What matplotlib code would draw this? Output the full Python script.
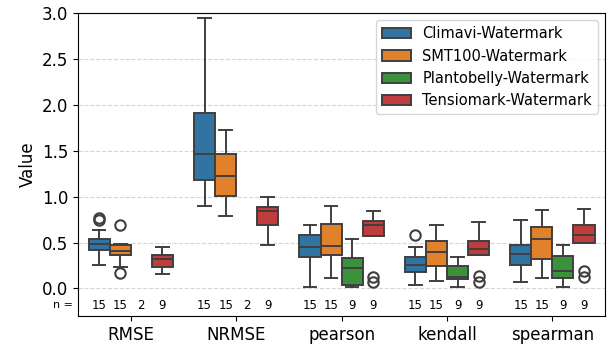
#!/usr/bin/env python3
# Boxplots of sensor-vs-Watermark error metrics, drawn from box statistics.

import numpy as np
import matplotlib
matplotlib.use("Agg")
import matplotlib.pyplot as plt
from matplotlib.patches import Patch

# --- DATA ---
metrics = ["RMSE", "NRMSE", "pearson", "kendall", "spearman"]
sensors = ["Climavi-Watermark", "SMT100-Watermark",
           "Plantobelly-Watermark", "Tensiomark-Watermark"]
colors = ["#3274a1", "#e1812c", "#3a923a", "#c03d3e"]

# sample counts per metric, one list per sensor
counts_climavi = [15, 15, 15, 15, 15]
counts_smt100 = [15, 15, 15, 15, 15]
counts_plantobelly = [2, 2, 9, 9, 9]
counts_tensiomark = [9, 9, 9, 9, 9]

# box stats per metric: whislo, q1, median, q3, whishi (None = nothing shown)
climavi_stats = [
    (0.26, 0.42, 0.48, 0.535, 0.64),
    (0.90, 1.18, 1.46, 1.91, 2.95),
    (0.015, 0.34, 0.455, 0.58, 0.69),
    (0.04, 0.185, 0.255, 0.34, 0.45),
    (0.07, 0.26, 0.38, 0.47, 0.745),
]
smt100_stats = [
    (0.23, 0.36, 0.41, 0.47, 0.48),
    (0.79, 1.01, 1.22, 1.46, 1.73),
    (0.11, 0.36, 0.46, 0.70, 0.90),
    (0.08, 0.24, 0.40, 0.52, 0.69),
    (0.11, 0.32, 0.535, 0.67, 0.85),
]
plantobelly_stats = [
    None,
    None,
    (0.015, 0.04, 0.225, 0.335, 0.54),
    (0.015, 0.10, 0.125, 0.24, 0.34),
    (0.015, 0.11, 0.19, 0.35, 0.47),
]
tensiomark_stats = [
    (0.16, 0.23, 0.32, 0.37, 0.45),
    (0.47, 0.69, 0.84, 0.89, 1.00),
    (0.575, 0.575, 0.69, 0.73, 0.84),
    (0.36, 0.36, 0.43, 0.515, 0.72),
    (0.495, 0.495, 0.585, 0.695, 0.87),
]

# outliers per metric
climavi_fliers = [[0.77, 0.75], [], [], [0.585], []]
smt100_fliers = [[0.69, 0.17], [], [], [], []]
plantobelly_fliers = [[], [], [], [], []]
tensiomark_fliers = [[], [], [0.12, 0.07], [0.14, 0.075], [0.19, 0.12]]

all_stats = [climavi_stats, smt100_stats, plantobelly_stats, tensiomark_stats]
all_fliers = [climavi_fliers, smt100_fliers, plantobelly_fliers, tensiomark_fliers]
all_counts = [counts_climavi, counts_smt100, counts_plantobelly, counts_tensiomark]

# --- PLOT ---
fig = plt.figure(figsize=(6.1, 3.45), dpi=100)
ax = fig.add_axes([0.128, 0.084, 0.864, 0.878])

edge = "#3f3f3f"
box_w = 0.2
offsets = [-0.3, -0.1, 0.1, 0.3]

for j in range(len(sensors)):
    stats, positions = [], []
    for i in range(len(metrics)):
        s = all_stats[j][i]
        if s is None:
            continue
        lo, q1, med, q3, hi = s
        stats.append(dict(whislo=lo, q1=q1, med=med, q3=q3, whishi=hi,
                          fliers=all_fliers[j][i]))
        positions.append(i + offsets[j])
    ax.bxp(stats, positions=positions, widths=box_w, capwidths=0.12,
           patch_artist=True, manage_ticks=False,
           boxprops=dict(facecolor=colors[j], edgecolor=edge, linewidth=1.4),
           medianprops=dict(color=edge, linewidth=1.4),
           whiskerprops=dict(color=edge, linewidth=1.4),
           capprops=dict(color=edge, linewidth=1.4),
           flierprops=dict(marker="o", markerfacecolor="none",
                           markeredgecolor=edge, markersize=7.5,
                           markeredgewidth=1.5))

# sample counts under each box
for j in range(len(sensors)):
    for i in range(len(metrics)):
        ax.text(i + offsets[j], -0.185, str(all_counts[j][i]),
                ha="center", va="center", fontsize=8.5)
ax.text(-0.01, -0.185, "n =", ha="right", va="center", fontsize=8,
        transform=ax.get_yaxis_transform())

ax.set_xlim(-0.5, len(metrics) - 0.5)
ax.set_ylim(-0.3, 3.0)
ax.set_xticks(np.arange(len(metrics)))
ax.set_xticklabels(metrics, fontsize=12)
ax.tick_params(axis="y", labelsize=12)
ax.set_ylabel("Value", fontsize=12)
ax.yaxis.grid(True, linestyle="--", color="#cccccc", alpha=0.8)
ax.set_axisbelow(True)

handles = [Patch(facecolor=c, edgecolor=edge, linewidth=1.4, label=s)
           for c, s in zip(colors, sensors)]
ax.legend(handles=handles, loc="upper right", fontsize=10.5)

fig.savefig("out.png", dpi=100)
